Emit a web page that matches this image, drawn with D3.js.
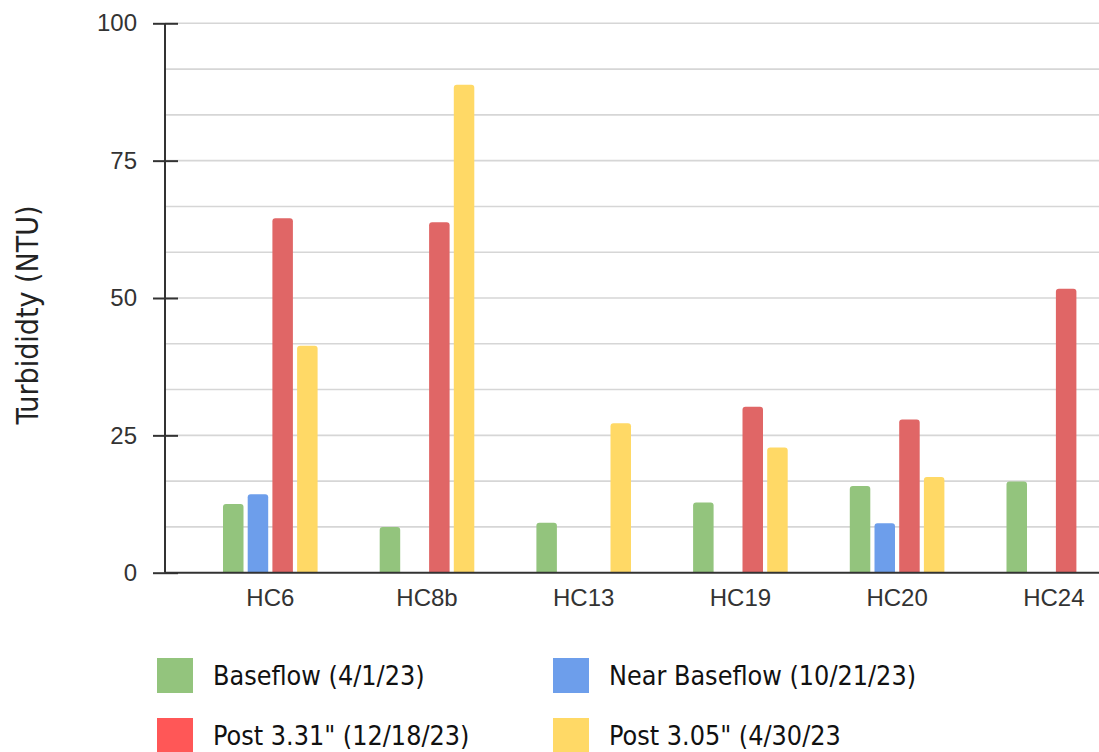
<!DOCTYPE html>
<html>
<head>
<meta charset="utf-8">
<script src="https://cdnjs.cloudflare.com/ajax/libs/d3/7.8.5/d3.min.js"></script>
<style>
  html, body { margin: 0; padding: 0; background: #fff; }
  svg { display: block; }
</style>
</head>
<body>
<svg id="chart" width="1099" height="752"></svg>
<script>
// Turbidity samples per site
const sites = ["HC6", "HC8b", "HC13", "HC19", "HC20", "HC24"];
const seriesNames = ["Baseflow (4/1/23)", "Near Baseflow (10/21/23)", "Post 3.31\" (12/18/23)", "Post 3.05\" (4/30/23"];
const baseflow     = [12.5, 8.3, 9.1, 12.8, 15.8, 16.6];
const nearBaseflow = [14.3, null, null, null, 9.0, null];
const post331      = [64.5, 63.8, null, 30.2, 27.9, 51.7];
const post305      = [41.3, 88.8, 27.2, 22.8, 17.4, null];
const yTicks = [0, 25, 50, 75, 100];

const barColors    = ["#93c47d", "#6d9eeb", "#e06666", "#ffd966"];
const legendColors = ["#93c47d", "#6d9eeb", "#ff5757", "#ffd966"];

const allSeries = [baseflow, nearBaseflow, post331, post305];

const svg = d3.select("#chart");

const y = d3.scaleLinear().domain([0, 100]).range([572.7, 23.3]);
const x = d3.scaleBand().domain(sites).range([191.95, 1132.15]).padding(0);
const groupW = 98.8;
const inner = d3.scaleBand().domain(d3.range(4)).range([0, groupW])
  .paddingInner(0.17).paddingOuter(0.085);

// minor gridlines (every third of a major step)
const gridVals = d3.range(0, 13).map(i => i * 25 / 3);
svg.append("g").selectAll("line").data(gridVals.filter(v => v > 0)).join("line")
  .attr("x1", 165).attr("x2", 1099)
  .attr("y1", d => y(d)).attr("y2", d => y(d))
  .attr("stroke", "#d6d6d6").attr("stroke-width", 1.6);

// bars with rounded tops
function barPath(x0, w, yTop, yBase, r) {
  r = Math.min(r, (yBase - yTop) / 2, w / 2);
  return `M${x0},${yBase}V${yTop + r}Q${x0},${yTop} ${x0 + r},${yTop}` +
         `H${x0 + w - r}Q${x0 + w},${yTop} ${x0 + w},${yTop + r}V${yBase}Z`;
}

const barData = [];
allSeries.forEach((vals, si) => {
  vals.forEach((v, ci) => {
    if (v != null) barData.push({ site: sites[ci], s: si, v });
  });
});

svg.append("g").selectAll("path").data(barData).join("path")
  .attr("d", d => {
    const cx = x(d.site) + x.bandwidth() / 2;
    const x0 = cx - groupW / 2 + inner(d.s);
    return barPath(x0, inner.bandwidth(), y(d.v), y(0), 3);
  })
  .attr("fill", d => barColors[d.s]);

// y axis
const yAxis = d3.axisLeft(y).tickValues(yTicks).tickSize(12).tickPadding(16);
const gy = svg.append("g").attr("transform", "translate(165,0)").call(yAxis);
gy.select(".domain").attr("stroke", "#333").attr("stroke-width", 2).attr("d", `M0,${y(100)}V${y(0)}`);
gy.selectAll(".tick line").attr("stroke", "#333").attr("stroke-width", 2).attr("x1", 13);
gy.selectAll(".tick text")
  .attr("font-family", "'Liberation Sans', Arial, sans-serif")
  .attr("font-size", 24).attr("fill", "#333");

// baseline
svg.append("line")
  .attr("x1", 165).attr("x2", 1099)
  .attr("y1", y(0)).attr("y2", y(0))
  .attr("stroke", "#333").attr("stroke-width", 2);

// x axis labels
const xAxis = d3.axisBottom(x).tickSize(0).tickPadding(16);
const gx = svg.append("g").attr("transform", `translate(0,${y(0)})`).call(xAxis);
gx.select(".domain").remove();
gx.selectAll(".tick text")
  .attr("font-family", "'Liberation Sans', Arial, sans-serif")
  .attr("font-size", 24).attr("fill", "#333");

// y axis title
svg.append("text")
  .attr("transform", "translate(38,315) rotate(-90)")
  .attr("text-anchor", "middle")
  .attr("font-family", "'DejaVu Sans', Verdana, sans-serif")
  .style("font-stretch", "condensed")
  .attr("font-size", 30).attr("fill", "#222")
  .text("Turbididty (NTU)");

// legend
const legendPos = [[157, 658], [553, 658], [157, 718], [553, 718]];
const lg = svg.append("g").selectAll("g").data(seriesNames).join("g")
  .attr("transform", (d, i) => `translate(${legendPos[i][0]},${legendPos[i][1]})`);
lg.append("rect").attr("width", 36).attr("height", 35)
  .attr("fill", (d, i) => legendColors[i]);
lg.append("text").attr("x", 56).attr("y", 27)
  .attr("font-family", "'DejaVu Sans', Verdana, sans-serif")
  .style("font-stretch", "condensed")
  .attr("font-size", 26.7).attr("fill", "#111")
  .text(d => d);
</script>
</body>
</html>
